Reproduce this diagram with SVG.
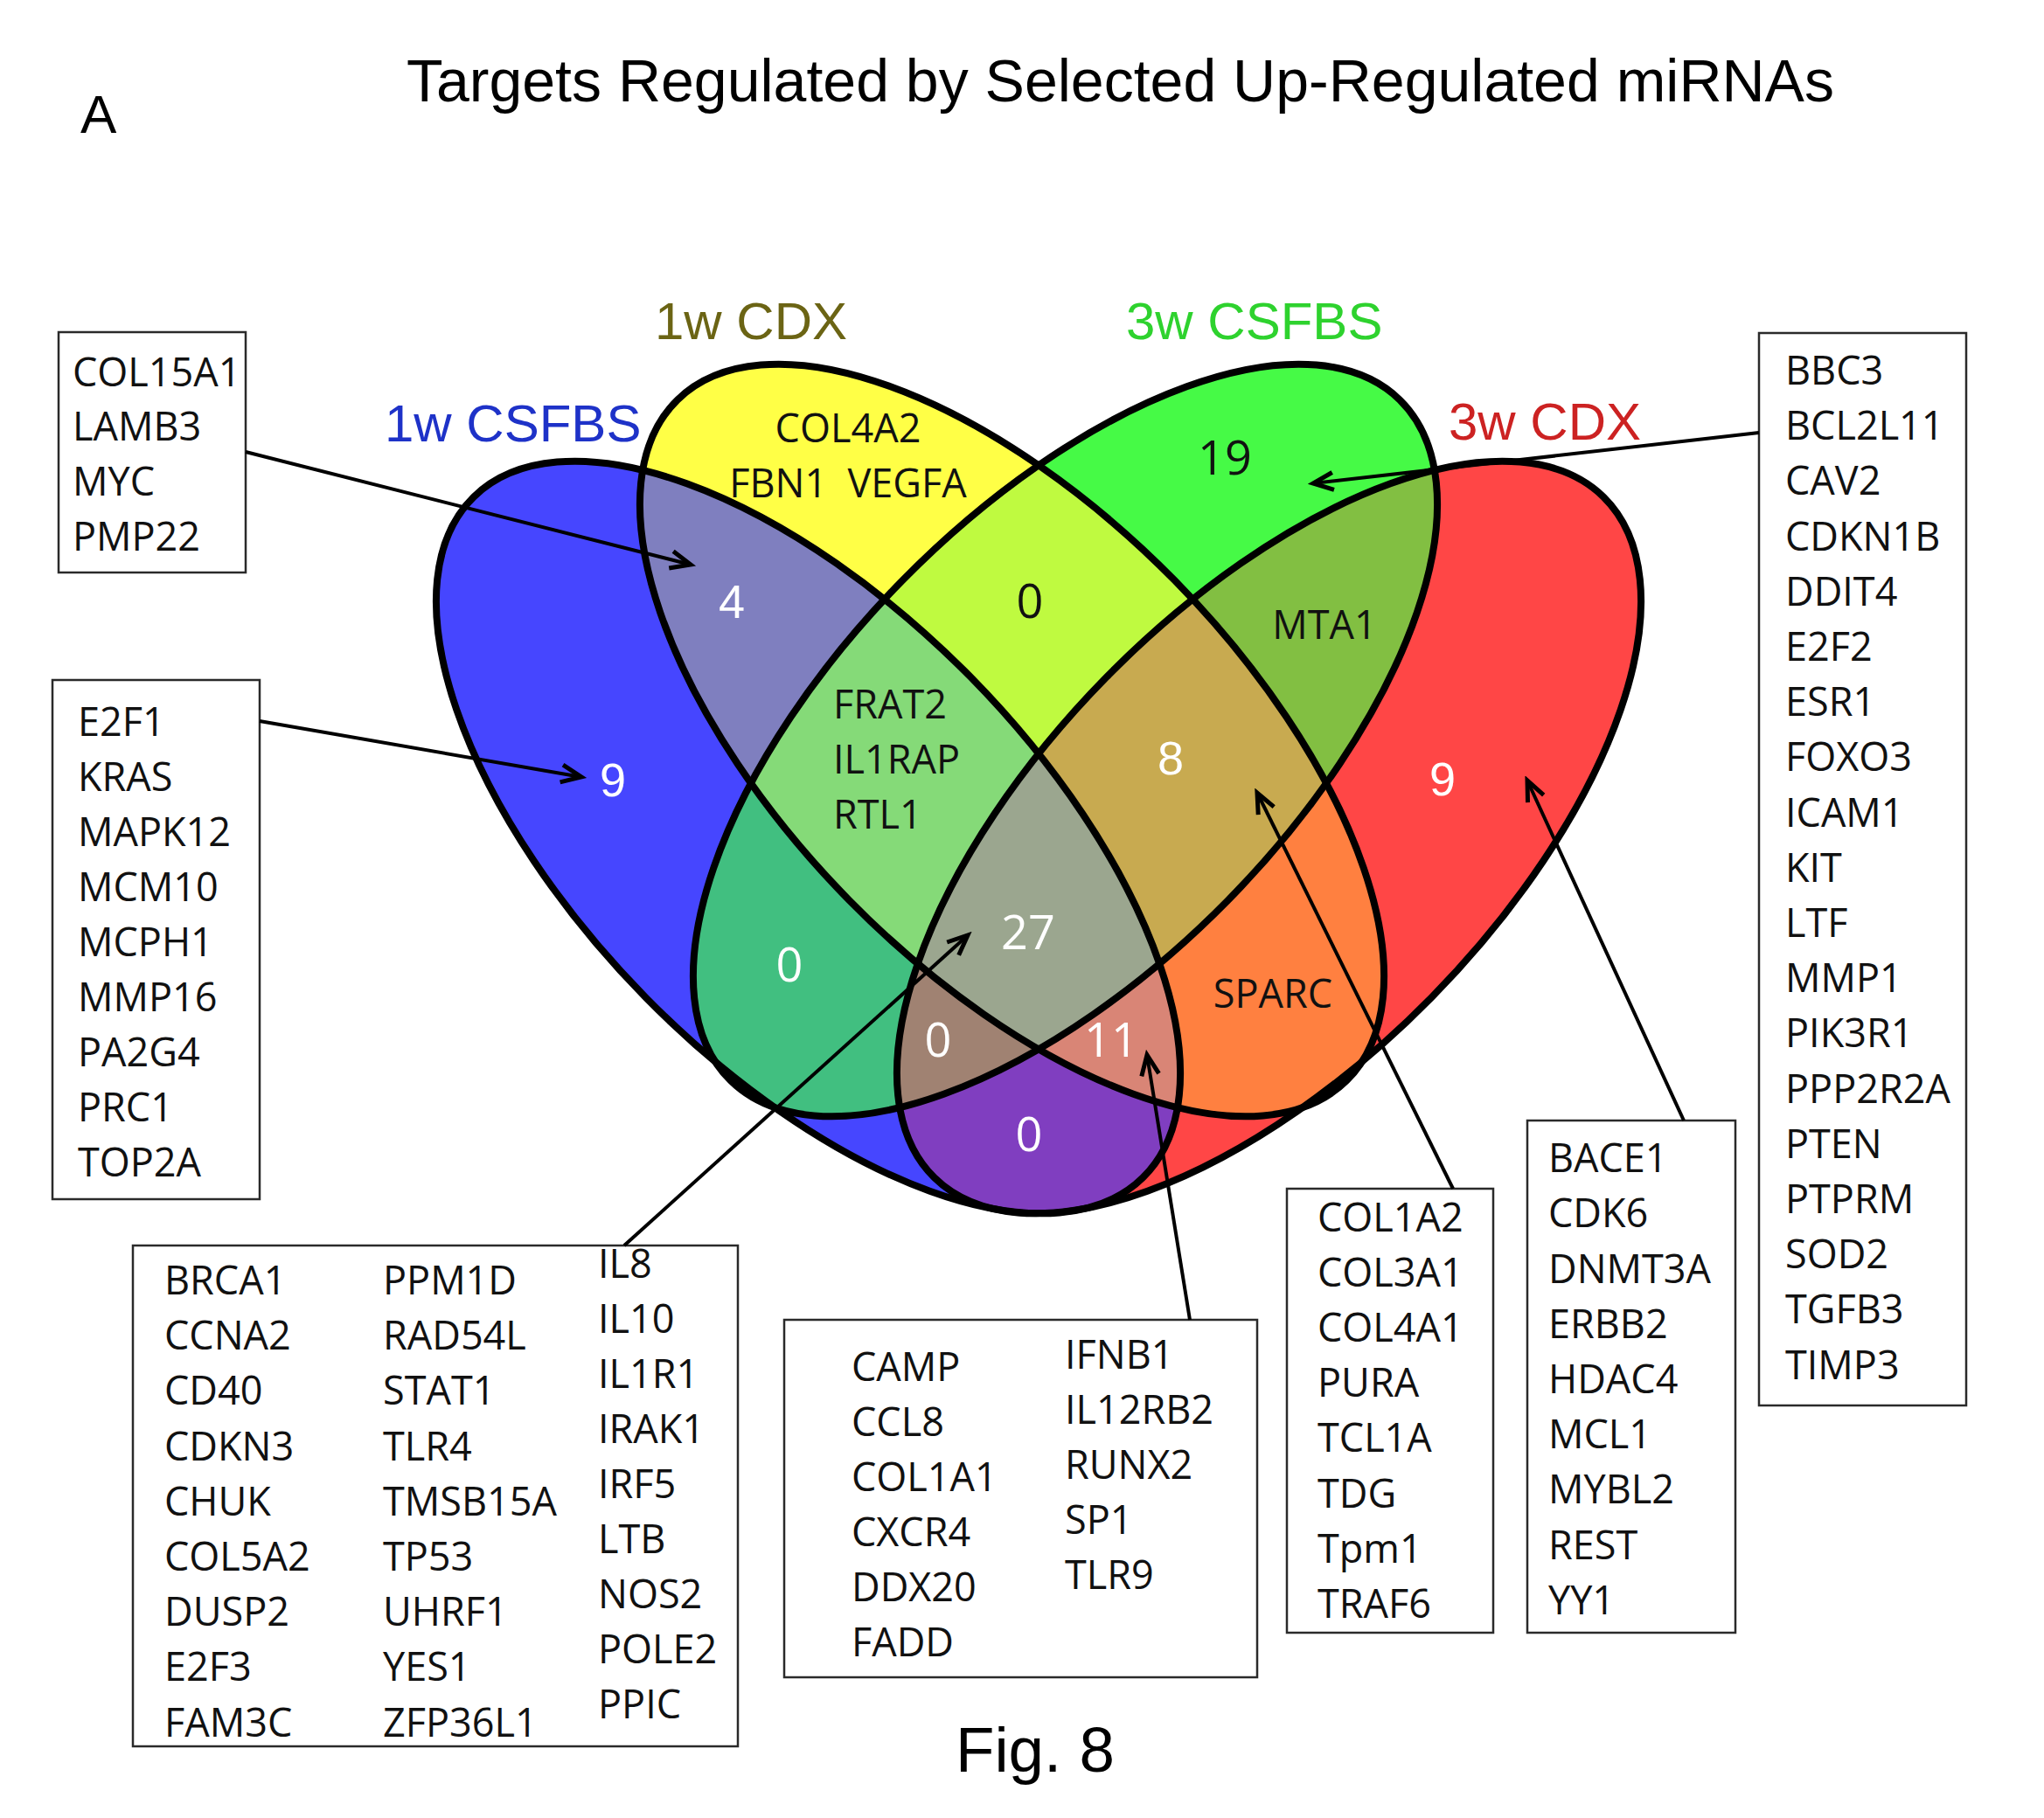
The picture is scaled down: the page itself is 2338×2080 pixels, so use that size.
<svg xmlns="http://www.w3.org/2000/svg" xmlns:xlink="http://www.w3.org/1999/xlink" width="2338" height="2080" viewBox="0 0 2338 2080">
<style>
.ar{font-family:"Liberation Sans",Arial,sans-serif}
.os{font-family:"Open Sans","DejaVu Sans",sans-serif;font-size:45px;fill:#111}
.num{font-family:"Open Sans","DejaVu Sans",sans-serif;font-size:54px;text-anchor:middle}
.anum{font-family:"Liberation Sans",Arial,sans-serif;font-size:54px;text-anchor:middle;fill:#fff}
.w{fill:#fff}
.k{fill:#111}
.box{fill:#fff;stroke:#2a2a2a;stroke-width:2.5}
.outl{fill:none;stroke:#000;stroke-width:8}
.con{stroke:#000;stroke-width:4;fill:none;marker-end:url(#ah)}
</style>
<defs>
<ellipse id="eB" cx="924.5" cy="958" rx="546" ry="261" transform="rotate(45.5 924.5 958)"/>
<ellipse id="eY" cx="1157.5" cy="847" rx="546" ry="261" transform="rotate(45.5 1157.5 847)"/>
<ellipse id="eG" cx="1218.5" cy="847" rx="546" ry="261" transform="rotate(-45.5 1218.5 847)"/>
<ellipse id="eR" cx="1451.5" cy="958" rx="546" ry="261" transform="rotate(-45.5 1451.5 958)"/>
<clipPath id="cB"><ellipse cx="924.5" cy="958" rx="546" ry="261" transform="rotate(45.5 924.5 958)"/></clipPath>
<clipPath id="cY"><ellipse cx="1157.5" cy="847" rx="546" ry="261" transform="rotate(45.5 1157.5 847)"/></clipPath>
<clipPath id="cG"><ellipse cx="1218.5" cy="847" rx="546" ry="261" transform="rotate(-45.5 1218.5 847)"/></clipPath>
<marker id="ah" viewBox="-27 -14 33 28" refX="0" refY="0" markerWidth="33" markerHeight="28" markerUnits="userSpaceOnUse" orient="auto">
<path d="M-23,-10 L0,0 L-23,10" fill="none" stroke="#000" stroke-width="5"/>
</marker>
</defs>
<rect width="2338" height="2080" fill="#fff"/>

<text class="ar" x="465" y="116" font-size="68" textLength="1633" lengthAdjust="spacingAndGlyphs">Targets Regulated by Selected Up-Regulated miRNAs</text>
<text class="ar" x="92" y="152" font-size="62">A</text>
<text class="ar" x="1093" y="2027" font-size="73" textLength="182" lengthAdjust="spacingAndGlyphs">Fig. 8</text>

<g id="venn-fills">
<use href="#eB" fill="#4646FF"/>
<use href="#eY" fill="#FFFF46"/>
<use href="#eG" fill="#46FA46"/>
<use href="#eR" fill="#FF4646"/>
<g clip-path="url(#cB)"><use href="#eY" fill="#7F7FBF"/></g>
<g clip-path="url(#cB)"><use href="#eG" fill="#41BF80"/></g>
<g clip-path="url(#cB)"><use href="#eR" fill="#803EC0"/></g>
<g clip-path="url(#cY)"><use href="#eG" fill="#BFFA40"/></g>
<g clip-path="url(#cY)"><use href="#eR" fill="#FF8040"/></g>
<g clip-path="url(#cG)"><use href="#eR" fill="#82BF42"/></g>
<g clip-path="url(#cB)"><g clip-path="url(#cY)"><use href="#eG" fill="#85DA78"/></g></g>
<g clip-path="url(#cB)"><g clip-path="url(#cY)"><use href="#eR" fill="#D98576"/></g></g>
<g clip-path="url(#cB)"><g clip-path="url(#cG)"><use href="#eR" fill="#A08272"/></g></g>
<g clip-path="url(#cY)"><g clip-path="url(#cG)"><use href="#eR" fill="#C8AA50"/></g></g>
<g clip-path="url(#cB)"><g clip-path="url(#cY)"><g clip-path="url(#cG)"><use href="#eR" fill="#9BA68F"/></g></g></g>
</g>

<g id="set-1w-CSFBS"><use href="#eB" class="outl"/><text class="ar" x="440" y="505" font-size="60" fill="#1E32C8">1w CSFBS</text></g>
<g id="set-1w-CDX"><use href="#eY" class="outl"/><text class="ar" x="749" y="388" font-size="60" fill="#6B6414">1w CDX</text></g>
<g id="set-3w-CSFBS"><use href="#eG" class="outl"/><text class="ar" x="1288" y="388" font-size="60" fill="#2ED22E">3w CSFBS</text></g>
<g id="set-3w-CDX"><use href="#eR" class="outl"/><text class="ar" x="1657" y="503" font-size="60" fill="#CC2222">3w CDX</text></g>

<g id="region-labels">
<text class="os" x="970" y="506" text-anchor="middle">COL4A2</text>
<text class="os" x="970" y="569" text-anchor="middle">FBN1&#160; VEGFA</text>
<text class="os" x="953" y="822">FRAT2</text>
<text class="os" x="953" y="885">IL1RAP</text>
<text class="os" x="953" y="948">RTL1</text>
<text class="os" x="1515" y="731" text-anchor="middle">MTA1</text>
<text class="os" x="1456" y="1153" text-anchor="middle">SPARC</text>
<text class="num k" x="1178" y="707">0</text>
<text class="num k" x="1401" y="543">19</text>
<text class="anum" x="837" y="707" font-size="57">4</text>
<text class="anum" x="701" y="911">9</text>
<text class="anum" x="1339" y="886">8</text>
<text class="anum" x="1650" y="910">9</text>
<text class="num w" x="1176" y="1086">27</text>
<text class="num w" x="903" y="1123">0</text>
<text class="num w" x="1073" y="1209">0</text>
<text class="num w" x="1271" y="1209">11</text>
<text class="num w" x="1177" y="1317">0</text>
</g>

<g id="box-col15a1">
<rect class="box" x="67" y="380" width="214" height="275"/>
<text class="os" x="83" y="442">COL15A1</text>
<text class="os" x="83" y="504">LAMB3</text>
<text class="os" x="83" y="567">MYC</text>
<text class="os" x="83" y="630">PMP22</text>
</g>

<g id="box-e2f1">
<rect class="box" x="60" y="778" width="237" height="594"/>
<text class="os" x="89" y="842">E2F1</text>
<text class="os" x="89" y="905">KRAS</text>
<text class="os" x="89" y="968">MAPK12</text>
<text class="os" x="89" y="1031">MCM10</text>
<text class="os" x="89" y="1094">MCPH1</text>
<text class="os" x="89" y="1157">MMP16</text>
<text class="os" x="89" y="1220">PA2G4</text>
<text class="os" x="89" y="1283">PRC1</text>
<text class="os" x="89" y="1346">TOP2A</text>
</g>

<g id="box-brca1">
<rect class="box" x="152" y="1425" width="692" height="573"/>
<text class="os" x="188" y="1481">BRCA1</text>
<text class="os" x="188" y="1544">CCNA2</text>
<text class="os" x="188" y="1607">CD40</text>
<text class="os" x="188" y="1671">CDKN3</text>
<text class="os" x="188" y="1734">CHUK</text>
<text class="os" x="188" y="1797">COL5A2</text>
<text class="os" x="188" y="1860">DUSP2</text>
<text class="os" x="188" y="1923">E2F3</text>
<text class="os" x="188" y="1987">FAM3C</text>
<text class="os" x="438" y="1481">PPM1D</text>
<text class="os" x="438" y="1544">RAD54L</text>
<text class="os" x="438" y="1607">STAT1</text>
<text class="os" x="438" y="1671">TLR4</text>
<text class="os" x="438" y="1734">TMSB15A</text>
<text class="os" x="438" y="1797">TP53</text>
<text class="os" x="438" y="1860">UHRF1</text>
<text class="os" x="438" y="1923">YES1</text>
<text class="os" x="438" y="1987">ZFP36L1</text>
<text class="os" x="684" y="1462">IL8</text>
<text class="os" x="684" y="1525">IL10</text>
<text class="os" x="684" y="1588">IL1R1</text>
<text class="os" x="684" y="1651">IRAK1</text>
<text class="os" x="684" y="1714">IRF5</text>
<text class="os" x="684" y="1777">LTB</text>
<text class="os" x="684" y="1840">NOS2</text>
<text class="os" x="684" y="1903">POLE2</text>
<text class="os" x="684" y="1966">PPIC</text>
</g>

<g id="box-camp">
<rect class="box" x="897" y="1510" width="541" height="409"/>
<text class="os" x="974" y="1580">CAMP</text>
<text class="os" x="974" y="1643">CCL8</text>
<text class="os" x="974" y="1706">COL1A1</text>
<text class="os" x="974" y="1769">CXCR4</text>
<text class="os" x="974" y="1832">DDX20</text>
<text class="os" x="974" y="1895">FADD</text>
<text class="os" x="1218" y="1566">IFNB1</text>
<text class="os" x="1218" y="1629">IL12RB2</text>
<text class="os" x="1218" y="1692">RUNX2</text>
<text class="os" x="1218" y="1755">SP1</text>
<text class="os" x="1218" y="1818">TLR9</text>
</g>

<g id="box-col1a2">
<rect class="box" x="1472" y="1360" width="236" height="508"/>
<text class="os" x="1507" y="1409">COL1A2</text>
<text class="os" x="1507" y="1472">COL3A1</text>
<text class="os" x="1507" y="1535">COL4A1</text>
<text class="os" x="1507" y="1598">PURA</text>
<text class="os" x="1507" y="1661">TCL1A</text>
<text class="os" x="1507" y="1725">TDG</text>
<text class="os" x="1507" y="1788">Tpm1</text>
<text class="os" x="1507" y="1851">TRAF6</text>
</g>

<g id="box-bace1">
<rect class="box" x="1747" y="1282" width="238" height="586"/>
<text class="os" x="1771" y="1341">BACE1</text>
<text class="os" x="1771" y="1404">CDK6</text>
<text class="os" x="1771" y="1468">DNMT3A</text>
<text class="os" x="1771" y="1531">ERBB2</text>
<text class="os" x="1771" y="1594">HDAC4</text>
<text class="os" x="1771" y="1657">MCL1</text>
<text class="os" x="1771" y="1720">MYBL2</text>
<text class="os" x="1771" y="1784">REST</text>
<text class="os" x="1771" y="1847">YY1</text>
</g>

<g id="box-bbc3">
<rect class="box" x="2012" y="381" width="237" height="1227"/>
<text class="os" x="2042" y="440">BBC3</text>
<text class="os" x="2042" y="503">BCL2L11</text>
<text class="os" x="2042" y="566">CAV2</text>
<text class="os" x="2042" y="630">CDKN1B</text>
<text class="os" x="2042" y="693">DDIT4</text>
<text class="os" x="2042" y="756">E2F2</text>
<text class="os" x="2042" y="819">ESR1</text>
<text class="os" x="2042" y="882">FOXO3</text>
<text class="os" x="2042" y="946">ICAM1</text>
<text class="os" x="2042" y="1009">KIT</text>
<text class="os" x="2042" y="1072">LTF</text>
<text class="os" x="2042" y="1135">MMP1</text>
<text class="os" x="2042" y="1198">PIK3R1</text>
<text class="os" x="2042" y="1262">PPP2R2A</text>
<text class="os" x="2042" y="1325">PTEN</text>
<text class="os" x="2042" y="1388">PTPRM</text>
<text class="os" x="2042" y="1451">SOD2</text>
<text class="os" x="2042" y="1514">TGFB3</text>
<text class="os" x="2042" y="1578">TIMP3</text>
</g>

<g id="connectors">
<line class="con" x1="281" y1="517" x2="790" y2="646"/>
<line class="con" x1="297" y1="825" x2="665" y2="889"/>
<line class="con" x1="714" y1="1425" x2="1107" y2="1070"/>
<line class="con" x1="1361" y1="1510" x2="1312" y2="1207"/>
<line class="con" x1="1662" y1="1360" x2="1438" y2="907"/>
<line class="con" x1="1926" y1="1282" x2="1747" y2="893"/>
<line class="con" x1="2012" y1="495" x2="1502" y2="553"/>
</g>
</svg>
